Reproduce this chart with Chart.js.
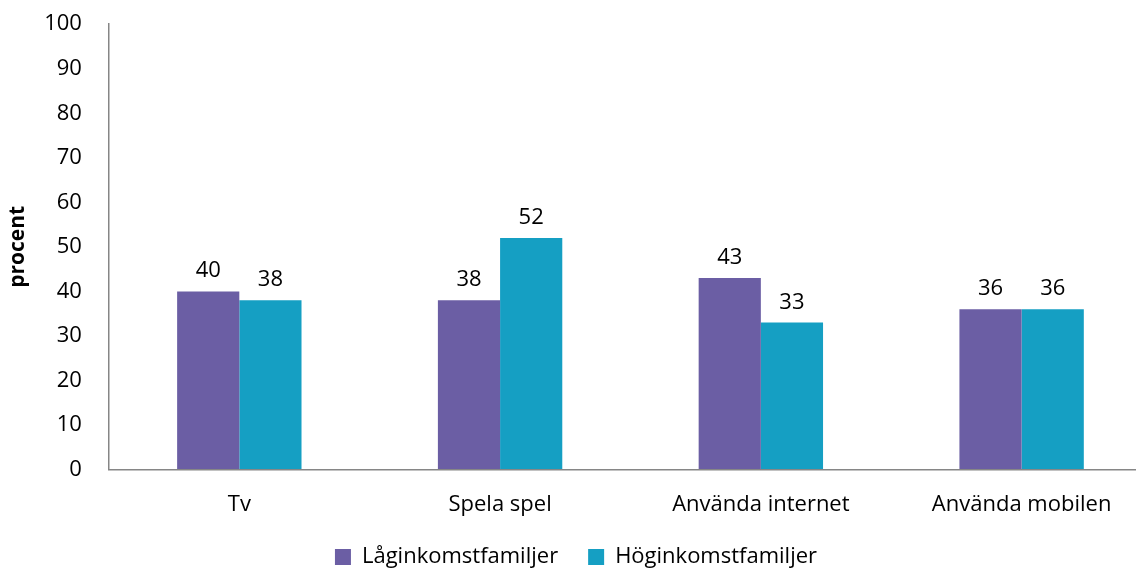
<!DOCTYPE html>
<html lang="sv">
<head>
<meta charset="UTF-8">
<title>procent</title>
<script src="https://cdn.jsdelivr.net/npm/chart.js"></script>
<style>
    body, html { margin: 0; padding: 0; overflow: hidden; background: #fff; }
    #wrap { width: 1152px; height: 572px; }
</style>
</head>
<body>
<div id="wrap"><canvas id="c"></canvas></div>
<script>
const categories = ['Tv', 'Spela spel', 'Använda internet', 'Använda mobilen'];
const lowIncome = [40, 38, 43, 36];
const highIncome = [38, 52, 33, 36];
const seriesNames = ['Låginkomstfamiljer', 'Höginkomstfamiljer'];

const FONT = "'Open Sans', 'Liberation Sans', sans-serif";

// values above the bars
const barLabels = {
    id: 'barLabels',
    afterDatasetsDraw(chart) {
        const ctx = chart.ctx;
        ctx.save();
        ctx.font = '22px ' + FONT;
        ctx.fillStyle = '#000';
        ctx.textAlign = 'center';
        ctx.textBaseline = 'alphabetic';
        chart.data.datasets.forEach((ds, i) => {
            chart.getDatasetMeta(i).data.forEach((bar, j) => {
                ctx.fillText(ds.data[j], bar.x, bar.y - 14);
            });
        });
        ctx.restore();
    }
};

new Chart(document.getElementById('c'), {
    type: 'bar',
    data: {
        labels: categories,
        datasets: [
            { label: seriesNames[0], data: lowIncome, backgroundColor: '#6b5ea4' },
            { label: seriesNames[1], data: highIncome, backgroundColor: '#159fc3' }
        ]
    },
    options: {
        responsive: true,
        maintainAspectRatio: false,
        animation: false,
        categoryPercentage: 0.477,
        barPercentage: 1,
        layout: { padding: { top: 0, left: 0, right: 0, bottom: -6 } },
        plugins: {
            legend: {
                position: 'bottom',
                labels: {
                    font: { family: FONT, size: 22 },
                    color: '#000',
                    boxWidth: 16,
                    boxHeight: 16,
                    padding: 30
                }
            },
            tooltip: { enabled: false }
        },
        scales: {
            x: {
                grid: { display: false, drawTicks: false },
                border: { color: '#868686', width: 1.5 },
                ticks: { font: { family: FONT, size: 22 }, color: '#000', padding: 22 },
                afterFit(scale) { scale.height -= 24; }
            },
            y: {
                min: 0,
                max: 100,
                grid: { drawOnChartArea: false, drawTicks: true, tickLength: 16, tickColor: 'rgba(0,0,0,0)' },
                border: { color: '#868686', width: 1.5 },
                ticks: { stepSize: 10, font: { family: FONT, size: 22 }, color: '#000', padding: 11 },
                title: {
                    display: true,
                    text: 'procent',
                    font: { family: FONT, size: 21, weight: 'bold' },
                    color: '#000',
                    padding: { top: 5, bottom: 3 }
                }
            }
        }
    },
    plugins: [barLabels]
});
</script>
</body>
</html>
